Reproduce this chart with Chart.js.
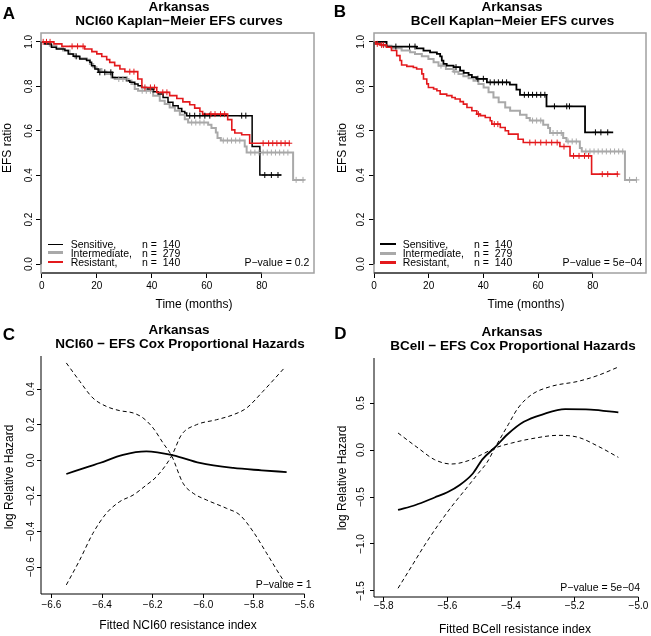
<!DOCTYPE html>
<html>
<head>
<meta charset="utf-8">
<script src="https://cdn.jsdelivr.net/npm/chart.js@4.4.1/dist/chart.umd.min.js"></script>
<style>
  body { margin: 0; background: #fff; }
  #fig { position: relative; width: 651px; height: 636px; overflow: hidden;
         font-family: "Liberation Sans", Arial, Helvetica, sans-serif; color: #000; }
  #fig canvas { position: absolute; }
  #fig .txt { position: absolute; white-space: pre; line-height: 1; }
</style>
</head>
<body>
<div id="fig"></div>
<script>
// ---------- Kaplan-Meier panels (A, B): shared ticks ----------
const kmTicksX = [0, 20, 40, 60, 80];
const kmTickLabelsX = ['0', '20', '40', '60', '80'];
const kmTicksY = [0, 0.2, 0.4, 0.6, 0.8, 1.0];
const kmTickLabelsY = ['0.0', '0.2', '0.4', '0.6', '0.8', '1.0'];
const groupNames = ['Sensitive,', 'Intermediate,', 'Resistant,'];
const groupN = [140, 279, 140];

// Panel A: NCI60 signature (event times, survival after each step, last follow-up, censor times)
const aSensTime = [0, 1.1, 3.5, 5.3, 8.4, 9.6, 11.4, 13.8, 16.3, 17.5, 18.1, 19.3, 20.5, 25.7, 30.8, 32, 33.8, 35, 36.3, 38.1, 40.5, 42.3, 44.1, 45.9, 47.7, 49.6, 50.9, 52, 52.7, 76.5, 79.3];
const aSensSurv = [1, .991, .976, .968, .961, .946, .935, .923, .916, .908, .893, .878, .863, .840, .825, .818, .811, .803, .795, .788, .776, .765, .750, .728, .713, .700, .687, .680, .668, .529, .401];
const aSensEnd = 87.2;
const aSensCens = [12.5, 21.1, 22.9, 25.1, 53.8, 55.6, 57.5, 59.3, 61.1, 72.7, 74.2, 81.1, 83.5, 85.9];

const aInterTime = [0, 1.1, 2.9, 5.3, 7.7, 10.1, 12, 13.8, 16.3, 17.5, 18.7, 19.9, 21.7, 23.5, 25.3, 26.5, 31.4, 32.6, 33.8, 35, 40.5, 42.9, 44.7, 46.5, 48.4, 50.2, 52, 53.2, 60.5, 61.7, 63.3, 63.9, 65.1, 73.8, 74.5, 91.4];
const aInterSurv = [1, .995, .983, .971, .961, .946, .931, .926, .920, .901, .886, .878, .866, .856, .840, .833, .826, .811, .788, .780, .758, .735, .720, .705, .690, .672, .652, .637, .627, .612, .592, .567, .556, .529, .502, .379];
const aInterEnd = 95.6;
const aInterCens = [28, 29.5, 31, 36.5, 38, 39.5, 54.5, 56, 57.5, 59, 66, 67.5, 69, 70.5, 72, 76, 77.5, 79, 80.5, 82, 83.5, 85, 86.5, 88, 89.5, 92.5, 95];

const aResTime = [0, 4.4, 7.3, 15.6, 18.2, 20, 21.8, 23.6, 24.7, 26.5, 28.4, 30.2, 34.9, 36.4, 41.8, 46.5, 49.1, 51.3, 53.8, 55.6, 57.5, 58.5, 67.6, 69.1, 70.2, 72.7, 75.6];
const aResSurv = [1, .991, .980, .968, .956, .946, .934, .920, .908, .893, .878, .866, .833, .795, .773, .758, .745, .730, .717, .702, .687, .675, .650, .604, .590, .582, .544];
const aResEnd = 90.2;
const aResCens = [0.5, 1.7, 3, 11, 13, 15, 32, 33.5, 37.5, 39.5, 41, 44, 45.5, 61.5, 63, 65, 66.5, 80.5, 82.5, 84, 85.5, 87, 88.5, 90];

// Panel B: BCell signature
const bSensTime = [0, 4.6, 15.6, 18.1, 20.5, 23, 24.2, 24.8, 25.4, 26.6, 29.1, 31.5, 32.8, 34.6, 35.8, 37.6, 41.3, 49.7, 52.1, 53.4, 63.1, 77.2];
const bSensSurv = [1, .979, .971, .961, .953, .946, .935, .916, .901, .893, .886, .871, .861, .852, .841, .834, .818, .808, .785, .762, .710, .593];
const bSensEnd = 87.5;
const bSensCens = [8, 13, 15, 30, 38, 40, 42.5, 44, 45.5, 47, 48.5, 55, 56.5, 58, 59.5, 61, 62.5, 66, 70.5, 71.5, 81, 83, 85.5];

const bInterTime = [0, 0.6, 2.8, 6.4, 10.1, 13.2, 15, 17.5, 19.9, 21.8, 23.6, 26.3, 29.1, 30.9, 32.7, 34.6, 36.4, 38.2, 40.1, 41.9, 43.7, 45.6, 48, 49.8, 53.4, 55.8, 57, 61.9, 63.7, 64.4, 69.2, 70.4, 75.3, 76, 91.8];
const bInterSurv = [1, .991, .983, .971, .961, .953, .946, .935, .923, .908, .893, .878, .866, .856, .845, .836, .825, .811, .795, .773, .750, .728, .705, .690, .672, .657, .646, .627, .612, .590, .567, .552, .522, .507, .379];
const bInterEnd = 96.1;
const bInterCens = [24.5, 29.5, 58, 59.5, 61, 65.5, 67, 68.5, 71, 72.5, 74, 77.5, 79, 80.5, 82, 83.5, 85, 86.5, 88, 89.5, 91, 93.5, 96];

const bResTime = [0, 0.6, 2.2, 4.6, 6.4, 8.3, 9.5, 10.1, 12, 14.4, 15.6, 17.5, 18.1, 19.3, 19.9, 21.8, 23, 24.2, 26.6, 28.5, 29.7, 31.5, 32.7, 34, 35.8, 37.6, 38.8, 40.7, 42.5, 43.1, 46.2, 48, 49.2, 52.7, 54.6, 68, 71.7, 79.6];
const bResSurv = [1, .991, .986, .976, .961, .938, .916, .896, .890, .885, .878, .856, .833, .811, .795, .788, .780, .765, .758, .750, .743, .731, .720, .705, .690, .675, .668, .660, .645, .630, .615, .600, .585, .562, .547, .529, .487, .405];
const bResEnd = 89.4;
const bResCens = [1.2, 2.8, 3.5, 38.2, 44, 45.3, 57, 59, 61, 63, 65, 67, 69.5, 73, 75, 77, 78.5, 83.5, 85.5, 89];

// ---------- Cox panels (C, D) ----------
const cTicksX = [-6.6, -6.4, -6.2, -6.0, -5.8, -5.6];
const cTickLabelsX = ['\u22126.6', '\u22126.4', '\u22126.2', '\u22126.0', '\u22125.8', '\u22125.6'];
const cTicksY = [-0.6, -0.4, -0.2, 0, 0.2, 0.4];
const cTickLabelsY = ['\u22120.6', '\u22120.4', '\u22120.2', '0.0', '0.2', '0.4'];
const cFitX = [-6.541, -6.45, -6.409, -6.317, -6.225, -6.119, -6.014, -5.882, -5.77, -5.671];
const cFitY = [-0.077, -0.034, -0.015, 0.031, 0.050, 0.028, -0.015, -0.043, -0.056, -0.066];
const cBand1X = [-6.541, -6.488, -6.436, -6.383, -6.330, -6.277, -6.238, -6.198, -6.159, -6.125, -6.080, -6.040, -5.987, -5.908, -5.856, -5.803, -5.750, -5.685, -5.671];
const cBand1Y = [0.547, 0.444, 0.350, 0.303, 0.279, 0.266, 0.238, 0.181, 0.097, 0.025, -0.129, -0.185, -0.223, -0.270, -0.307, -0.401, -0.522, -0.672, -0.700];
const cBand2X = [-6.541, -6.488, -6.436, -6.383, -6.330, -6.277, -6.225, -6.185, -6.125, -6.086, -6.027, -5.948, -5.882, -5.829, -5.764, -5.678];
const cBand2Y = [-0.700, -0.560, -0.410, -0.298, -0.232, -0.195, -0.139, -0.092, 0.025, 0.144, 0.200, 0.228, 0.256, 0.294, 0.388, 0.522];

const dTicksX = [-5.8, -5.6, -5.4, -5.2, -5.0];
const dTickLabelsX = ['\u22125.8', '\u22125.6', '\u22125.4', '\u22125.2', '\u22125.0'];
const dTicksY = [-1.5, -1.0, -0.5, 0, 0.5];
const dTickLabelsY = ['\u22121.5', '\u22121.0', '\u22120.5', '0.0', '0.5'];
const dFitX = [-5.755, -5.70, -5.64, -5.60, -5.56, -5.52, -5.49, -5.45, -5.41, -5.36, -5.30, -5.23, -5.15, -5.063];
const dFitY = [-0.638, -0.585, -0.505, -0.45, -0.37, -0.25, -0.10, 0.03, 0.17, 0.30, 0.38, 0.435, 0.43, 0.40];
const dBand1X = [-5.755, -5.713, -5.671, -5.629, -5.587, -5.545, -5.503, -5.475, -5.451, -5.409, -5.378, -5.336, -5.273, -5.189, -5.126, -5.063];
const dBand1Y = [-1.471, -1.241, -1.010, -0.798, -0.603, -0.426, -0.248, -0.130, 0.021, 0.269, 0.447, 0.588, 0.678, 0.731, 0.795, 0.883];
const dBand2X = [-5.755, -5.692, -5.640, -5.587, -5.535, -5.493, -5.451, -5.398, -5.336, -5.252, -5.189, -5.126, -5.063];
const dBand2Y = [0.181, 0.021, -0.103, -0.149, -0.114, -0.050, 0.021, 0.074, 0.120, 0.156, 0.135, 0.039, -0.078];

// ---------- helpers ----------
const FONT = '"Liberation Sans", Arial, Helvetica, sans-serif';
const RED = '#e3191c', GREY = '#a9a9a9', BLACK = '#000000';
const fig = document.getElementById('fig');

function stepAt(times, surv, t) {
  let s = surv[0];
  for (let i = 0; i < times.length; i++) if (times[i] <= t) s = surv[i];
  return s;
}
function kmLine(times, surv, end) {
  const pts = times.map((t, i) => ({x: t, y: surv[i]}));
  pts.push({x: end, y: surv[surv.length - 1]});
  return pts;
}
function kmCens(times, surv, cens) {
  return cens.map(t => ({x: t, y: stepAt(times, surv, t)}));
}
function xy(xs, ys) { return xs.map((x, i) => ({x: x, y: ys[i]})); }

function text(str, x, y, o) {
  o = o || {};
  const d = document.createElement('div');
  d.className = 'txt';
  d.textContent = str;
  d.style.left = x + 'px';
  d.style.top = y + 'px';
  d.style.fontSize = (o.size || 12) + 'px';
  if (o.bold) d.style.fontWeight = 'bold';
  const tx = o.anchor === 'l' ? '0' : (o.anchor === 'r' ? '-100%' : '-50%');
  d.style.transform = 'translate(' + tx + ',-50%)' + (o.rot ? ' rotate(' + o.rot + 'deg)' : '');
  fig.appendChild(d);
}
function seg(x1, x2, y, w, color) {
  const d = document.createElement('div');
  d.style.cssText = 'position:absolute;left:' + x1 + 'px;top:' + (y - w / 2) + 'px;width:' + (x2 - x1) +
    'px;height:' + w + 'px;background:' + color + ';';
  fig.appendChild(d);
}

// box / axis lines drawn from the scales
const framePlugin = {
  id: 'frame',
  afterDraw(chart, args, opts) {
    const {ctx, chartArea: a} = chart;
    const sx = chart.scales.x, sy = chart.scales.y;
    const xEnd = sx.getPixelForValue(opts.xt[opts.xt.length - 1]);
    ctx.save();
    if (opts.box) {
      ctx.strokeStyle = opts.box;
      ctx.lineWidth = 1.5;
      ctx.strokeRect(a.left, a.top, a.right - a.left, a.bottom - a.top);
      ctx.strokeStyle = '#000';
      ctx.lineWidth = 1;
      ctx.beginPath();
      ctx.moveTo(sx.getPixelForValue(opts.xt[0]), a.bottom);
      ctx.lineTo(xEnd, a.bottom);
      ctx.moveTo(a.left, sy.getPixelForValue(opts.yt[0]));
      ctx.lineTo(a.left, sy.getPixelForValue(opts.yt[opts.yt.length - 1]));
      ctx.stroke();
    } else {
      ctx.strokeStyle = '#000';
      ctx.lineWidth = 1;
      ctx.beginPath();
      ctx.moveTo(a.left, a.top);
      ctx.lineTo(a.left, a.bottom);
      ctx.lineTo(xEnd, a.bottom);
      ctx.stroke();
    }
    ctx.restore();
  }
};

function scaleOpts(axis, min, max, ticks, labels, g) {
  const isY = axis === 'y';
  return {
    type: 'linear', position: isY ? 'left' : 'bottom', min: min, max: max,
    afterBuildTicks: s => { s.ticks = ticks.map(v => ({value: v})); },
    afterFit: s => { if (isY) s.width = g.yW; else s.height = g.xH; },
    grid: {display: true, drawOnChartArea: false, drawTicks: true, tickLength: g.tl,
           tickColor: '#000', tickWidth: 1, color: '#000'},
    border: {display: false},
    ticks: {
      autoSkip: false, color: '#000', padding: isY ? g.yPad : g.xPad,
      font: {family: FONT, size: 10, lineHeight: 1},
      minRotation: isY ? 90 : 0, maxRotation: isY ? 90 : 0,
      crossAlign: isY ? 'center' : 'near',
      callback: (v, i) => labels[i]
    }
  };
}

function makeChart(g, datasets, xr, yr, xt, xl, yt, yl, box) {
  const cv = document.createElement('canvas');
  cv.width = g.w; cv.height = g.h;
  cv.style.left = g.left + 'px';
  cv.style.top = g.top + 'px';
  cv.style.width = g.w + 'px';
  cv.style.height = g.h + 'px';
  fig.appendChild(cv);
  return new Chart(cv, {
    type: 'scatter',
    data: {datasets: datasets},
    options: {
      responsive: false, animation: false, devicePixelRatio: 1, events: [],
      layout: {padding: {left: 0, top: g.padT, right: g.padR, bottom: 0}},
      plugins: {legend: {display: false}, tooltip: {enabled: false},
                frame: {box: box, xt: xt, yt: yt}},
      scales: {
        x: scaleOpts('x', xr[0], xr[1], xt, xl, g),
        y: scaleOpts('y', yr[0], yr[1], yt, yl, g)
      }
    },
    plugins: [framePlugin]
  });
}

function kmSets(groups) {
  const lines = [], marks = [];
  groups.forEach(gr => {
    lines.push({data: kmLine(gr.t, gr.s, gr.end), showLine: true, stepped: true,
                borderColor: gr.c, borderWidth: gr.w, pointRadius: 0, fill: false});
    marks.push({data: kmCens(gr.t, gr.s, gr.cens), showLine: false, pointStyle: 'cross',
                pointRadius: 3, pointBorderWidth: 1, borderColor: gr.c, backgroundColor: gr.c});
  });
  return marks.concat(lines);
}
function coxSets(fitX, fitY, b1X, b1Y, b2X, b2Y) {
  const base = {showLine: true, pointRadius: 0, fill: false, borderColor: '#000',
                cubicInterpolationMode: 'monotone'};
  return [
    Object.assign({data: xy(fitX, fitY), borderWidth: 1.8}, base),
    Object.assign({data: xy(b1X, b1Y), borderWidth: 1, borderDash: [4, 3]}, base),
    Object.assign({data: xy(b2X, b2Y), borderWidth: 1, borderDash: [4, 3]}, base)
  ];
}

// ---------- Panel A ----------
makeChart({left: 0, top: 0, w: 325, h: 318, yW: 41, xH: 45, padT: 33, padR: 11, tl: 5, xPad: 3, yPad: 0},
  kmSets([
    {t: aResTime, s: aResSurv, end: aResEnd, cens: aResCens, c: RED, w: 1.6},
    {t: aSensTime, s: aSensSurv, end: aSensEnd, cens: aSensCens, c: BLACK, w: 1.5},
    {t: aInterTime, s: aInterSurv, end: aInterEnd, cens: aInterCens, c: GREY, w: 2}
  ]),
  [-0.3, 99], [-0.04, 1.04], kmTicksX, kmTickLabelsX, kmTicksY, kmTickLabelsY, '#a0a0a0');

// ---------- Panel B ----------
makeChart({left: 325, top: 0, w: 326, h: 318, yW: 49, xH: 45, padT: 33, padR: 5, tl: 5, xPad: 3, yPad: 1},
  kmSets([
    {t: bResTime, s: bResSurv, end: bResEnd, cens: bResCens, c: RED, w: 1.6},
    {t: bSensTime, s: bSensSurv, end: bSensEnd, cens: bSensCens, c: BLACK, w: 1.8},
    {t: bInterTime, s: bInterSurv, end: bInterEnd, cens: bInterCens, c: GREY, w: 2}
  ]),
  [0, 99.5], [-0.04, 1.04], kmTicksX, kmTickLabelsX, kmTicksY, kmTickLabelsY, '#a0a0a0');

// ---------- Panel C ----------
makeChart({left: 0, top: 318, w: 325, h: 318, yW: 41, xH: 42, padT: 38, padR: 10, tl: 4, xPad: 2, yPad: -4},
  coxSets(cFitX, cFitY, cBand1X, cBand1Y, cBand2X, cBand2Y),
  [-6.641, -5.559], [-0.751, 0.586], cTicksX, cTickLabelsX, cTicksY, cTickLabelsY, null);

// ---------- Panel D ----------
makeChart({left: 325, top: 318, w: 326, h: 318, yW: 49, xH: 39, padT: 40, padR: 11, tl: 4, xPad: 0, yPad: -1},
  coxSets(dFitX, dFitY, dBand1X, dBand1Y, dBand2X, dBand2Y),
  [-5.8305, -4.995], [-1.564, 0.979], dTicksX, dTickLabelsX, dTicksY, dTickLabelsY, null);

// ---------- text ----------
text('A', 9, 13, {size: 17, bold: true});
text('B', 340, 11, {size: 17, bold: true});
text('C', 9, 334, {size: 17, bold: true});
text('D', 340.5, 333, {size: 17, bold: true});

text('Arkansas', 179, 7, {size: 13.5, bold: true});
text('NCI60 Kaplan\u2212Meier EFS curves', 179, 20.5, {size: 13.5, bold: true});
text('Arkansas', 512, 7, {size: 13.5, bold: true});
text('BCell Kaplan\u2212Meier EFS curves', 512.5, 20.5, {size: 13.5, bold: true});
text('Arkansas', 179, 330, {size: 13.5, bold: true});
text('NCI60 \u2212 EFS Cox Proportional Hazards', 180, 343.5, {size: 13.5, bold: true});
text('Arkansas', 512, 332, {size: 13.5, bold: true});
text('BCell \u2212 EFS Cox Proportional Hazards', 513, 346, {size: 13.5, bold: true});

text('Time (months)', 194, 304);
text('Time (months)', 526, 304);
text('EFS ratio', 7, 148, {rot: -90});
text('EFS ratio', 342, 148, {rot: -90});
text('Fitted NCI60 resistance index', 178, 625);
text('Fitted BCell resistance index', 515, 629);
text('log Relative Hazard', 9, 477, {rot: -90});
text('log Relative Hazard', 342, 478, {rot: -90});

// legends
const legA = [{y: 244, c: BLACK, w: 1}, {y: 252.7, c: GREY, w: 2.5}, {y: 262, c: RED, w: 2.5}];
legA.forEach((r, i) => {
  seg(48, 63, r.y, r.w, r.c);
  text(groupNames[i], 70.7, r.y, {size: 10.5, anchor: 'l'});
  text('n =  ' + groupN[i], 142, r.y, {size: 10.5, anchor: 'l'});
});
const legB = [{y: 244, c: BLACK}, {y: 253.3, c: GREY}, {y: 262.3, c: RED}];
legB.forEach((r, i) => {
  seg(380, 396, r.y, 2.5, r.c);
  text(groupNames[i], 402.7, r.y, {size: 10.5, anchor: 'l'});
  text('n =  ' + groupN[i], 474, r.y, {size: 10.5, anchor: 'l'});
});

text('P\u2212value = 0.2', 309.3, 262, {size: 10.5, anchor: 'r'});
text('P\u2212value = 5e\u221204', 642.3, 262.3, {size: 10.5, anchor: 'r'});
text('P\u2212value = 1', 311.7, 584, {size: 10.5, anchor: 'r'});
text('P\u2212value = 5e\u221204', 640, 587.3, {size: 10.5, anchor: 'r'});
</script>
</body>
</html>
